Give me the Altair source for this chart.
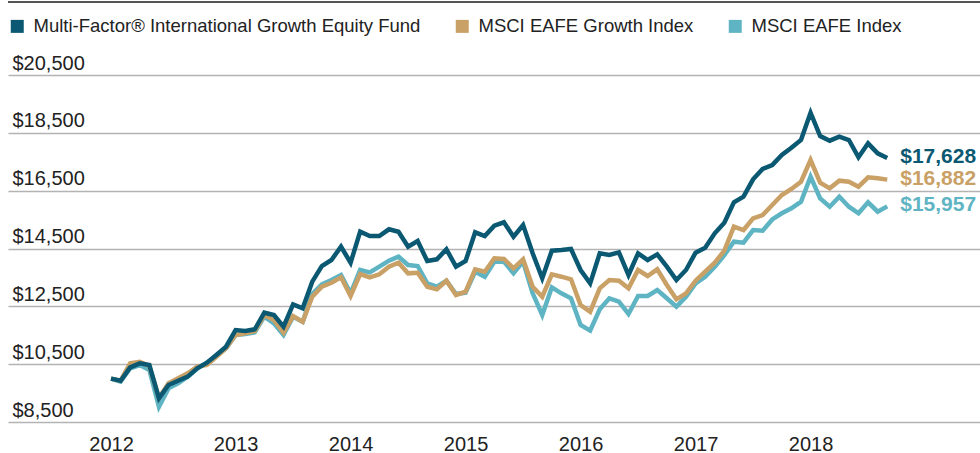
import altair as alt
import pandas as pd

series_names = [
    "Multi-Factor® International Growth Equity Fund",
    "MSCI EAFE Growth Index",
    "MSCI EAFE Index",
]
series_colors = ["#0b5872", "#c9a065", "#5fb4c3"]

# month-end values, Dec 2011 .. Sep 2018 (growth of $10,000)
fund = [10000, 9928, 10391, 10529, 10471, 9319, 9779, 9928, 10067, 10357,
        10552, 10817, 11104, 11681, 11647, 11705, 12280, 12200, 11796, 12570,
        12432, 13352, 13894, 14102, 14563, 14009, 15081, 14932, 14932, 15164,
        15081, 14563, 14759, 14067, 14126, 14472, 13871, 14067, 15060, 14932,
        15289, 15406, 14908, 15312, 14333, 13469, 14424, 14448, 14482, 13756,
        13296, 14333, 14275, 14367, 13583, 14333, 14102, 14298, 13871, 13410,
        13756, 14355, 14528, 15025, 15392, 16097, 16291, 16893, 17249, 17387,
        17733, 17986, 18252, 19196, 18390, 18228, 18366, 18252, 17653, 18137,
        17792, 17628]
growth = [10000, 9928, 10529, 10585, 10437, 9330, 9837, 10010, 10183, 10414,
          10471, 10759, 11048, 11508, 11566, 11647, 12200, 12027, 11589, 12165,
          11969, 12833, 13179, 13317, 13504, 12857, 13618, 13504, 13607, 13871,
          14009, 13642, 13663, 13179, 13088, 13386, 12892, 13006, 13780, 13698,
          14161, 14138, 13815, 14126, 13179, 12833, 13607, 13525, 13434, 12546,
          12314, 13123, 13410, 13386, 13123, 13756, 13549, 13780, 13237, 12743,
          12951, 13386, 13698, 14009, 14424, 15254, 15139, 15543, 15658, 16004,
          16350, 16557, 16810, 17560, 16775, 16581, 16845, 16810, 16637, 16962,
          16926, 16882]
eafe = [10000, 9900, 10357, 10471, 10299, 9030, 9664, 9837, 10067, 10357,
        10529, 10817, 11048, 11508, 11543, 11601, 12142, 11912, 11508, 12142,
        11969, 12926, 13261, 13410, 13583, 12951, 13756, 13676, 13871, 14078,
        14217, 13929, 13894, 13296, 13179, 13386, 12926, 12972, 13698, 13525,
        14044, 14044, 13642, 14044, 12951, 12200, 13158, 12951, 12777, 11855,
        11659, 12397, 12777, 12661, 12235, 12857, 12857, 13065, 12777, 12488,
        12833, 13296, 13525, 13871, 14275, 14735, 14700, 15139, 15115, 15504,
        15717, 15890, 16118, 16983, 16235, 15945, 16291, 15945, 15717, 16097,
        15772, 15957]

year_tick_idx = [0, 13, 25, 37, 49, 61, 73]
year_labels = ["2012", "2013", "2014", "2015", "2016", "2017", "2018"]
y_ticks = [8500, 10500, 12500, 14500, 16500, 18500, 20500]

rows = []
for name, vals in [(series_names[2], eafe), (series_names[1], growth), (series_names[0], fund)]:
    for i, v in enumerate(vals):
        rows.append({"month": i, "value": v, "series": name})
df = pd.DataFrame(rows)
last = df[df["month"] == df["month"].max()]

label_expr = " : ".join(
    f"datum.value == {t} ? '{l}'" for t, l in zip(year_tick_idx, year_labels)
) + " : ''"

FONT = "Liberation Sans"
TXT = "#222222"

color_scale = alt.Scale(domain=series_names, range=series_colors)
x_enc = alt.X(
    "month:Q",
    scale=alt.Scale(domain=[-10.75, 90.68], nice=False, zero=False),
    axis=alt.Axis(values=year_tick_idx, labelExpr=label_expr, title=None,
                  ticks=False, tickSize=0, domain=False, grid=False,
                  labelFontSize=20, labelFont=FONT, labelColor=TXT,
                  labelPadding=28, labelBaseline="alphabetic",
                  labelFlush=False, labelOverlap=False),
)
y_enc = alt.Y(
    "value:Q",
    scale=alt.Scale(domain=[8500, 20500], nice=False, zero=False),
    axis=alt.Axis(values=y_ticks, format="$,.0f", title=None, ticks=False,
                  tickSize=0, domain=False, grid=True, gridColor="#b3b3b3",
                  gridWidth=1.5, labelAlign="left", labelBaseline="alphabetic",
                  labelPadding=-4, labelOffset=-6, labelFontSize=20,
                  labelFont=FONT, labelColor=TXT, labelFlush=False,
                  labelOverlap=False),
)

legend = alt.Legend(title=None, orient="none", legendX=0, legendY=-58,
                    direction="horizontal", symbolType="square", symbolSize=169,
                    symbolStrokeWidth=0, symbolOpacity=1, labelFontSize=18.5,
                    labelFont=FONT, labelColor=TXT, labelOffset=7,
                    columnPadding=32, labelLimit=0, padding=0)

lines = alt.Chart(df).mark_line(strokeWidth=4.5).encode(
    x=x_enc, y=y_enc,
    color=alt.Color("series:N", scale=color_scale, legend=legend, sort=series_names),
)
pts = alt.Chart(last).mark_point(filled=True, shape="square", opacity=0).encode(
    x="month:Q", y="value:Q",
    color=alt.Color("series:N", scale=color_scale, legend=legend, sort=series_names),
)
labels = alt.Chart(last).mark_text(
    align="left", baseline="middle", dx=13, dy=-1, fontSize=21,
    fontWeight="bold", font=FONT,
).encode(
    x="month:Q", y="value:Q",
    text=alt.Text("value:Q", format="$,.0f"),
    color=alt.Color("series:N", scale=color_scale, legend=None),
)
top_rule = alt.Chart(pd.DataFrame({"k": [0]})).mark_rule(
    color="#555555", strokeWidth=2
).encode(x=alt.value(0), x2=alt.value(972), y=alt.value(-73))

chart = alt.layer(top_rule, lines, pts, labels).properties(
    width=972, height=347,
    padding={"left": 8, "top": 75, "right": 0, "bottom": 31},
    autosize=alt.AutoSizeParams(type="none"),
).configure_view(stroke=None)

chart.save("out.html", embed_options={"renderer": "svg", "actions": False})
